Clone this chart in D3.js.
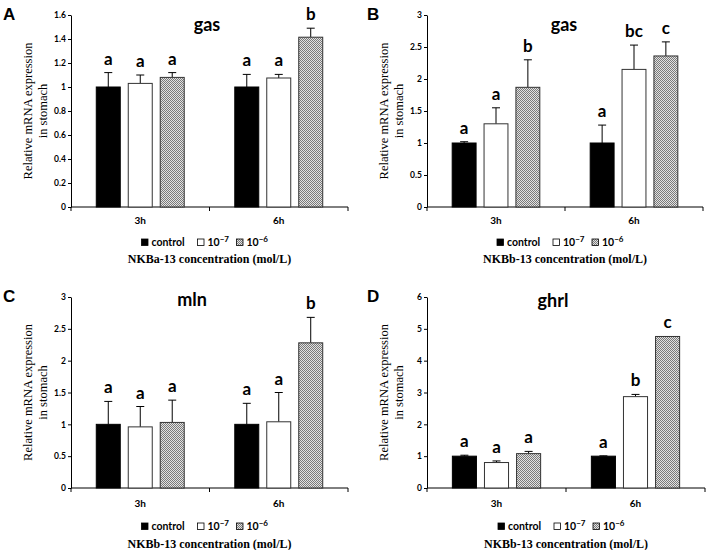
<!DOCTYPE html>
<html>
<head>
<meta charset="utf-8">
<script src="https://cdn.jsdelivr.net/npm/d3@7"></script>
<style>
body { margin: 0; background: #fff; }
.sans { font-family: Lato, "Open Sans", sans-serif; font-weight: bold; }
.serif { font-family: "Liberation Serif", "DejaVu Serif", serif; }
</style>
</head>
<body>
<svg width="709" height="550"></svg>
<script>
var groups = ["3h", "6h"];
var series = ["control", "1e-7", "1e-6"];

// panel A: gas, NKBa-13
var gasA = [[1.00, 1.03, 1.08], [1.00, 1.075, 1.415]];
var gasAErr = [[0.12, 0.07, 0.04], [0.105, 0.03, 0.075]];
var gasALetters = [["a", "a", "a"], ["a", "a", "b"]];
var ticksA = [0, 0.2, 0.4, 0.6, 0.8, 1, 1.2, 1.4, 1.6];

// panel B: gas, NKBb-13
var gasB = [[1.00, 1.30, 1.87], [1.00, 2.15, 2.36]];
var gasBErr = [[0.02, 0.25, 0.43], [0.28, 0.38, 0.22]];
var gasBLetters = [["a", "a", "b"], ["a", "bc", "c"]];
var ticksB = [0, 0.5, 1, 1.5, 2, 2.5, 3];

// panel C: mln
var mlnC = [[1.00, 0.96, 1.03], [1.00, 1.04, 2.28]];
var mlnCErr = [[0.36, 0.32, 0.35], [0.33, 0.46, 0.40]];
var mlnCLetters = [["a", "a", "a"], ["a", "a", "b"]];
var ticksC = [0, 0.5, 1, 1.5, 2, 2.5, 3];

// panel D: ghrl
var ghrlD = [[1.00, 0.80, 1.08], [1.00, 2.87, 4.76]];
var ghrlDErr = [[0.03, 0.05, 0.07], [0.01, 0.07, 0]];
var ghrlDLetters = [["a", "a", "a"], ["a", "b", "c"]];
var ticksD = [0, 1, 2, 3, 4, 5, 6];

var svg = d3.select("svg");

// grey dotted fill for the 10^-6 bars
var defs = svg.append("defs");
var pat = defs.append("pattern")
    .attr("id", "dots")
    .attr("width", 2).attr("height", 2)
    .attr("patternUnits", "userSpaceOnUse");
pat.append("rect").attr("width", 2).attr("height", 2).attr("fill", "#e2e2e2");
pat.append("rect").attr("width", 1).attr("height", 1).attr("fill", "#7a7a7a");
pat.append("rect").attr("x", 1).attr("y", 1).attr("width", 1).attr("height", 1).attr("fill", "#7a7a7a");

var fills = {"control": "#000", "1e-7": "#fff", "1e-6": "url(#dots)"};

var panels = [
  {id: "A", title: "gas", vals: gasA, err: gasAErr, letters: gasALetters, ticks: ticksA,
   xlab: "NKBa-13 concentration (mol/L)", x0: 71, x1: 348, top: 15, bottom: 207,
   tx: 207, ty: 31, lx: 3, ly: 20, tickY: 224, legY: 246, xlabY: 263},
  {id: "B", title: "gas", vals: gasB, err: gasBErr, letters: gasBLetters, ticks: ticksB,
   xlab: "NKBb-13 concentration (mol/L)", x0: 427, x1: 703, top: 15, bottom: 207,
   tx: 564, ty: 31, lx: 367, ly: 20, tickY: 224, legY: 246, xlabY: 263},
  {id: "C", title: "mln", vals: mlnC, err: mlnCErr, letters: mlnCLetters, ticks: ticksC,
   xlab: "NKBb-13 concentration (mol/L)", x0: 71, x1: 348, top: 297, bottom: 488,
   tx: 192, ty: 306, lx: 3, ly: 302, tickY: 507, legY: 530, xlabY: 548},
  {id: "D", title: "ghrl", vals: ghrlD, err: ghrlDErr, letters: ghrlDLetters, ticks: ticksD,
   xlab: "NKBb-13 concentration (mol/L)", x0: 427, x1: 705, top: 297, bottom: 488,
   tx: 553, ty: 307, lx: 367, ly: 302, tickY: 507, legY: 530, xlabY: 548}
];

panels.forEach(drawPanel);

function drawPanel(p) {
  var g = svg.append("g");

  var x = d3.scaleBand().domain(groups).range([p.x0, p.x1]);
  var y = d3.scaleLinear().domain([0, d3.max(p.ticks)]).range([p.bottom, p.top]);
  var groupW = x.bandwidth() * 0.635;
  var inner = d3.scaleBand().domain(series).range([0, groupW]).paddingInner(0.25);
  var off = (x.bandwidth() - groupW) / 2;

  // y axis
  var yAxis = g.append("g")
      .attr("transform", "translate(" + p.x0 + ",0)")
      .call(d3.axisLeft(y).tickValues(p.ticks).tickSize(3).tickSizeOuter(0)
          .tickFormat(function(d) { return String(d); }));
  yAxis.select(".domain").attr("stroke", "#000");
  yAxis.selectAll("text").attr("class", "sans").attr("font-size", 8.5).attr("x", -5);

  // x axis with ticks between the groups
  g.append("line")
      .attr("x1", p.x0).attr("x2", p.x1)
      .attr("y1", p.bottom).attr("y2", p.bottom)
      .attr("stroke", "#000");
  var bounds = groups.map(function(c) { return x(c); }).concat([p.x1]);
  g.selectAll(".xt").data(bounds).enter().append("line")
      .attr("x1", function(d) { return d; }).attr("x2", function(d) { return d; })
      .attr("y1", p.bottom).attr("y2", p.bottom + 4)
      .attr("stroke", "#000");
  g.selectAll(".xl").data(groups).enter().append("text")
      .attr("class", "sans")
      .attr("x", function(d) { return x(d) + x.bandwidth() / 2; })
      .attr("y", p.tickY)
      .attr("text-anchor", "middle")
      .attr("font-size", 10)
      .text(function(d) { return d; });

  // bars
  groups.forEach(function(grp, gi) {
    series.forEach(function(s, si) {
      var v = p.vals[gi][si], e = p.err[gi][si];
      var bx = x(grp) + off + inner(s);
      var cx = bx + inner.bandwidth() / 2;
      if (e > 0) {
        g.append("line")
            .attr("x1", cx).attr("x2", cx)
            .attr("y1", y(v)).attr("y2", y(v + e))
            .attr("stroke", "#000");
        g.append("line")
            .attr("x1", cx - 4).attr("x2", cx + 4)
            .attr("y1", y(v + e)).attr("y2", y(v + e))
            .attr("stroke", "#000");
      }
      g.append("rect")
          .attr("x", bx).attr("y", y(v))
          .attr("width", inner.bandwidth())
          .attr("height", y(0) - y(v))
          .attr("fill", fills[s])
          .attr("stroke", s == "control" ? "#000" : "#333")
          .attr("stroke-width", 1);
      g.append("text")
          .attr("class", "sans")
          .attr("x", cx)
          .attr("y", y(v + e) - 8)
          .attr("text-anchor", "middle")
          .attr("font-size", 17)
          .text(p.letters[gi][si]);
    });
  });

  // title and panel letter
  g.append("text").attr("class", "sans")
      .attr("x", p.tx).attr("y", p.ty)
      .attr("text-anchor", "middle").attr("font-size", 18)
      .text(p.title);
  g.append("text")
      .attr("x", p.lx).attr("y", p.ly)
      .attr("font-family", "Liberation Sans, Arial, sans-serif")
      .attr("font-weight", "bold").attr("font-size", 17)
      .text(p.id);

  // y label
  var ymid = (p.top + p.bottom) / 2;
  var yl = g.append("text").attr("class", "serif")
      .attr("font-size", 12.5)
      .attr("text-anchor", "middle")
      .attr("transform", "translate(" + (p.x0 - 39) + "," + ymid + ") rotate(-90)");
  yl.append("tspan").attr("x", 0).attr("y", 0).text("Relative mRNA expression");
  yl.append("tspan").attr("x", 0).attr("y", 15).text("in stomach");

  // legend
  var mid = (p.x0 + p.x1) / 2 - 5;
  var legX = [mid - 63, mid - 7, mid + 32];
  var leg = g.append("g");
  series.forEach(function(s, i) {
    leg.append("rect")
        .attr("x", legX[i]).attr("y", p.legY - 7)
        .attr("width", 6.5).attr("height", 6.5)
        .attr("fill", fills[s]).attr("stroke", "#000").attr("stroke-width", 0.8);
    var t = leg.append("text").attr("class", "sans")
        .attr("x", legX[i] + 10).attr("y", p.legY)
        .attr("font-size", 10.5);
    if (s == "control") {
      t.text("control");
    } else {
      t.append("tspan").text("10");
      t.append("tspan").attr("dy", -4).attr("font-size", 8)
          .text(s == "1e-7" ? "\u22127" : "\u22126");
    }
  });

  // x label
  g.append("text").attr("class", "serif")
      .attr("font-weight", "bold")
      .attr("x", (p.x0 + p.x1) / 2).attr("y", p.xlabY)
      .attr("text-anchor", "middle").attr("font-size", 12)
      .text(p.xlab);
}
</script>
</body>
</html>
